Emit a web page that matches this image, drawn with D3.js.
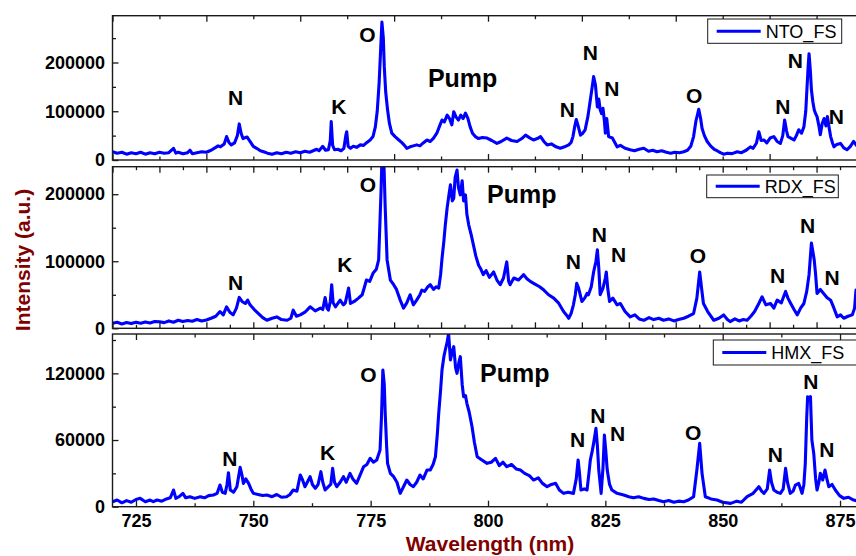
<!DOCTYPE html>
<html>
<head>
<meta charset="utf-8">
<script src="https://cdn.jsdelivr.net/npm/d3@7/dist/d3.min.js"></script>
<style>
  body { margin: 0; background: #fff; }
  svg { display: block; font-family: "Liberation Sans", Arial, sans-serif; }
</style>
</head>
<body>
<svg id="chart" width="856" height="556"></svg>
<script>
// spectra: [wavelength nm, intensity a.u.]
var ntoData = [[720,17000],[721,14000],[722,16000],[723,12000],[724,15000],[725,13000],[726,16000],[727,12000],[728,15000],[729,13000],[730,16000],[731,14000],[732,15000],[733,24000],[733.5,14000],[734,16000],[735,13000],[736,15000],[736.5,20000],[737,13000],[738,15000],[739,17000],[740,16000],[741,20000],[742,26000],[742.5,29000],[743,27000],[743.8,33000],[744.3,48000],[744.8,36000],[745.3,31000],[746,35000],[746.6,50000],[747,74000],[747.4,55000],[747.8,44000],[748.3,46000],[748.7,47000],[749.3,38000],[750,28000],[750.7,24000],[751.5,19000],[752.2,17000],[753,14000],[754,12000],[755,15000],[756,13000],[757,16000],[758,14000],[759,17000],[760,15000],[761,18000],[762,16000],[763,20000],[763.5,22000],[764,19000],[764.8,28000],[765.4,20000],[766,21000],[766.4,40000],[766.6,79000],[766.9,30000],[767.3,21000],[768,22000],[768.7,19000],[769.3,24000],[769.7,50000],[769.9,58000],[770.2,28000],[770.7,24000],[771.3,28000],[772,26000],[772.8,31000],[773.5,30000],[774.2,36000],[774.9,41000],[775.5,48000],[776,68000],[776.4,100000],[776.8,157000],[777.1,220000],[777.4,283000],[777.7,250000],[777.9,192000],[778.2,140000],[778.6,103000],[779,75000],[779.5,55000],[780.2,48000],[781,41000],[781.6,36000],[782.2,30000],[782.7,24000],[783.4,27000],[784.1,29000],[784.8,31000],[785.5,29000],[786.2,35000],[787,41000],[787.7,38000],[788.4,45000],[789.1,55000],[789.7,70000],[790.2,82000],[790.7,78000],[791.3,92000],[791.8,85000],[792.3,72000],[792.7,99000],[793.2,88000],[793.7,82000],[794.2,92000],[794.7,85000],[795.2,96000],[795.7,86000],[796.2,68000],[796.7,55000],[797.3,48000],[798,44000],[798.8,46000],[799.8,45000],[800.8,40000],[801.9,34000],[802.8,38000],[804,45000],[805,40000],[806.2,38000],[807.2,44000],[808,51000],[808.8,46000],[809.7,41000],[810.5,44000],[811.2,48000],[811.9,38000],[812.6,31000],[813.5,33000],[814.5,27000],[815.4,24000],[816.3,27000],[817.2,31000],[817.7,36000],[818.1,48000],[818.5,70000],[818.8,83000],[819.2,70000],[819.7,51000],[820.2,55000],[820.7,62000],[821.3,90000],[821.8,123000],[822.2,150000],[822.5,171000],[822.9,153000],[823.3,109000],[823.6,125000],[823.9,103000],[824.2,95000],[824.5,106000],[824.8,80000],[825,55000],[825.3,85000],[825.7,48000],[826.5,45000],[827.5,27000],[828.2,30000],[829.2,24000],[830.3,21000],[831.2,19000],[832.2,22000],[833.2,24000],[834.2,18000],[835.1,20000],[836,17000],[837,19000],[838,16000],[838.9,14000],[839.8,16000],[840.8,15000],[841.7,17000],[842.5,20000],[843.2,28000],[843.8,48000],[844.3,80000],[844.9,104000],[845.3,85000],[845.6,65000],[846.1,50000],[846.7,38000],[847.5,28000],[848.2,22000],[848.8,19000],[849.5,15000],[850.2,12000],[851,14000],[852,13000],[853.1,17000],[854,15000],[855,20000],[855.9,27000],[856.5,24000],[857.2,35000],[857.7,58000],[858.2,40000],[858.8,41000],[859.4,35000],[860.1,45000],[860.9,48000],[861.6,38000],[862.3,34000],[862.8,50000],[863.2,82000],[863.6,60000],[863.9,48000],[864.5,45000],[865.2,41000],[865.7,50000],[866.2,62000],[866.8,55000],[867.3,68000],[867.7,100000],[867.9,137000],[868.2,190000],[868.4,218000],[868.7,180000],[868.9,144000],[869.2,120000],[869.5,103000],[869.8,95000],[870.1,89000],[870.5,70000],[870.8,52000],[871.2,75000],[871.6,85000],[872,70000],[872.3,89000],[872.7,65000],[873,48000],[873.4,35000],[873.7,27000],[874.3,32000],[875.1,34000],[875.8,25000],[876.5,21000],[877.2,28000],[877.9,38000],[878.5,30000],[879.2,33000],[880,28000]];

var rdxData = [[720,7500],[721,9000],[722,6500],[723,8500],[724,7000],[725,9000],[726,7500],[727,9500],[728,8000],[729,10000],[730,9700],[731,8500],[732,11000],[733,9000],[734,12000],[735,10000],[736,11500],[737,10500],[738,13000],[739,11000],[740,12400],[741,15000],[742,18000],[742.9,25000],[743.6,20000],[744.3,32000],[745,24000],[745.7,20000],[746.4,30000],[747,46000],[747.6,40000],[748.3,37000],[748.8,42000],[749.3,35000],[750.2,28000],[751.1,22000],[752,16000],[752.9,12000],[754,15000],[755,17000],[756,13000],[757.2,12000],[758,15000],[758.5,27000],[759.2,18000],[760,20000],[761,24000],[762.1,32000],[763.2,26000],[764.3,30000],[764.8,28000],[765.3,46000],[765.7,30000],[766,27000],[766.4,40000],[766.7,65000],[767,38000],[767.5,32000],[768.5,42000],[769.2,35000],[769.6,38000],[770.3,60000],[770.7,37000],[771.5,40000],[772.4,45000],[773.2,50000],[773.7,62000],[774.1,72000],[774.8,70000],[775.5,82000],[776.2,88000],[776.7,102000],[777.2,202000],[777.6,300000],[778.1,180000],[778.5,102000],[779.2,72000],[779.9,65000],[780.5,58000],[781.3,42000],[782,30000],[782.7,38000],[783.4,50000],[784.1,35000],[784.8,42000],[785.5,50000],[785.9,57000],[786.5,55000],[787.2,62000],[787.7,65000],[788.4,58000],[789,62000],[789.5,60000],[789.9,80000],[790.2,104000],[790.6,130000],[790.9,154000],[791.3,180000],[791.7,200000],[792,214000],[792.4,190000],[792.7,194000],[793,225000],[793.4,236000],[793.7,210000],[794.1,199000],[794.5,220000],[794.8,190000],[795.2,199000],[795.5,170000],[795.9,154000],[796.4,140000],[796.9,124000],[797.4,108000],[798,94000],[798.5,88000],[799,80000],[799.6,86000],[800.3,76000],[801.2,84000],[801.9,72000],[802.6,65000],[803.3,75000],[804,99000],[804.4,70000],[804.7,65000],[805.5,75000],[806.5,72000],[807.6,80000],[808.3,74000],[809,70000],[810,66000],[811,62000],[811.9,57000],[812.9,50000],[814,45000],[815,38000],[816.1,25000],[816.7,20000],[817.2,15000],[817.7,22000],[818.2,35000],[818.6,50000],[818.9,67000],[819.3,60000],[820,40000],[820.6,45000],[821.1,52000],[821.4,50000],[822,62000],[822.5,84000],[823,100000],[823.3,117000],[823.6,90000],[823.9,50000],[824.5,60000],[825,75000],[825.2,84000],[825.5,60000],[825.9,40000],[826.6,45000],[827.5,35000],[828.2,37000],[829.2,25000],[830.3,17000],[831.3,20000],[832.2,14000],[833.2,12000],[834.3,16000],[835.3,13000],[836.4,15000],[837.4,12000],[838.5,14000],[839.6,11000],[840.6,13000],[841.7,15000],[842.7,18000],[843.8,22000],[844.5,45000],[845.1,84000],[845.5,60000],[845.9,37000],[846.8,25000],[848.1,12000],[849.2,15000],[850.2,20000],[851,13000],[851.6,10000],[852.6,14000],[853.5,11000],[854.4,13000],[855.2,12000],[856,18000],[856.8,25000],[857.7,37000],[858.4,47000],[859.2,35000],[860.2,37000],[860.9,30000],[861.6,42000],[862.5,38000],[863.4,55000],[863.9,45000],[864.5,37000],[865.2,28000],[865.9,20000],[866.6,30000],[867.3,37000],[867.9,55000],[868.4,80000],[868.9,127000],[869.2,115000],[869.5,102000],[869.8,80000],[870.1,52000],[870.8,58000],[871.5,52000],[872.2,46000],[873,42000],[873.7,30000],[874.4,17000],[875.1,20000],[875.8,15000],[876.7,18000],[877.6,20000],[878.1,30000],[878.4,57000],[878.8,45000],[879.4,40000],[880,35000]];

var hmxData = [[720,4500],[721,6000],[722,3500],[723,5500],[724,4000],[725,6500],[725.9,7500],[727,4500],[728,6000],[728.7,4500],[729.5,6000],[730.5,5000],[731.5,7000],[732.3,8000],[733,15000],[733.5,7500],[734.2,9000],[735,12000],[735.6,8000],[736.5,9000],[737.5,7500],[738.7,9000],[739.6,8000],[740.5,10000],[741.5,10500],[742.3,12000],[742.9,19500],[743.4,13000],[744,12000],[744.4,20000],[744.7,30600],[745.1,15000],[745.8,13000],[746.5,18000],[747.2,35400],[747.6,28000],[747.9,21000],[748.4,25000],[749,21000],[749.6,15000],[750,12000],[751,11000],[752,10000],[752.9,10500],[754,9000],[755,11000],[756,8500],[757.1,9000],[757.8,11000],[758.5,15000],[759.3,14000],[760,28500],[760.5,24000],[761,18000],[761.5,22000],[762.1,27000],[762.6,20000],[763.2,16500],[763.8,20000],[764.4,31500],[764.8,22000],[765.3,15000],[766,18000],[766.5,20000],[766.9,34500],[767.3,22000],[767.8,18000],[768.5,22000],[769.2,27000],[769.8,22000],[770.6,30000],[771.2,25000],[772,21000],[772.7,28000],[773.5,36000],[774.2,38000],[774.9,43500],[775.6,40000],[776.3,42000],[777,51000],[777.3,80000],[777.6,123000],[777.9,110000],[778.1,84000],[778.4,55000],[778.6,39000],[779.2,30000],[779.9,27000],[780.6,22000],[781.3,12000],[782,18000],[782.7,24000],[783.4,20000],[784.1,18000],[784.8,22000],[785.5,28500],[786.2,25000],[787,33000],[787.7,33000],[788.3,38000],[788.8,45000],[789.2,65000],[789.5,84000],[789.9,105000],[790.2,123000],[790.6,135000],[790.9,141000],[791.3,148000],[791.6,156000],[792,132000],[792.4,140000],[792.7,144000],[793.1,125000],[793.4,120000],[793.8,130000],[794.1,135000],[794.5,110000],[794.8,99000],[795.2,100000],[795.5,93000],[796,85000],[796.6,72000],[797.1,58000],[797.7,45000],[798.7,42000],[799.8,39000],[800.7,40000],[801.6,43500],[802.4,37000],[803.2,40000],[804,36000],[805,38000],[806,34000],[806.9,33000],[807.8,30000],[808.8,28000],[809.7,24000],[810.7,26000],[811.6,21000],[812.6,18000],[813.5,20000],[814.4,21000],[815.2,15000],[816.1,12000],[817.1,13000],[818.2,12000],[818.8,25000],[819.2,42000],[819.5,30000],[819.8,15000],[820.5,16000],[821.1,15000],[821.5,30000],[821.8,42000],[822.2,50000],[822.5,57000],[822.8,65000],[823,70500],[823.3,55000],[823.6,33000],[824.1,12000],[824.5,35000],[824.8,64500],[825.1,50000],[825.4,33000],[825.9,20000],[826.4,15000],[827.5,12000],[828.9,10500],[830,9000],[831,8000],[832.1,9000],[833.2,7500],[834.3,6500],[835.3,7000],[836.4,5500],[837.4,4500],[838.5,5500],[839.6,4000],[840.6,5000],[841.7,4500],[842.7,6000],[843.8,9000],[844.5,33000],[845.1,57000],[845.6,30000],[846.3,9000],[847.5,7000],[848.8,6000],[850,4000],[851.7,3000],[853,5000],[854,4000],[855.2,9000],[856.5,12000],[857.7,18000],[858.3,14000],[858.8,12000],[859.5,16000],[860,33000],[860.4,22000],[860.9,15000],[861.6,13000],[862.3,12000],[862.9,16000],[863.4,34500],[863.8,22000],[864.4,12000],[865,14000],[865.5,19500],[866.2,21000],[866.9,12000],[867.3,20000],[867.6,39000],[867.9,80000],[868.1,99000],[868.4,96000],[868.7,99000],[869,60000],[869.4,48000],[869.8,25000],[870.1,15000],[870.5,22000],[870.8,30000],[871.3,24000],[871.8,33000],[872.2,25000],[872.6,18000],[873.3,20000],[874,15000],[874.9,10000],[875.8,7500],[876.8,8500],[877.9,6000],[878.8,5000],[880,5500]];

var seriesNames = ["NTO_FS", "RDX_FS", "HMX_FS"];
var yMaxes = [296000, 241000, 155400];
var yMajorTicks = [[0, 100000, 200000], [0, 100000, 200000], [0, 60000, 120000]];
var yMinorTicks = [[50000, 150000, 250000], [50000, 150000], [30000, 90000, 150000]];
var xMajorTicks = [[720, 740, 760, 780, 800, 820, 840, 860, 880],
                   [720, 730, 740, 750, 760, 770, 780, 790, 800, 810, 820, 830, 840, 850, 860, 870, 880],
                   [725, 750, 775, 800, 825, 850, 875]];
var xMinorTicks = [[730, 750, 770, 790, 810, 830, 850, 870],
                   [725, 735, 745, 755, 765, 775, 785, 795, 805, 815, 825, 835, 845, 855, 865, 875],
                   [737.5, 762.5, 787.5, 812.5, 837.5, 862.5]];

// peak labels: [text, wavelength, intensity at baseline]
var ntoLabels = [["N",746.2,113000],["K",768.2,94000],["O",774.3,242000],["Pump",794.6,149000],
  ["N",816.9,87600],["N",821.8,205000],["N",826.4,131000],["O",843.9,116000],
  ["N",862.8,94000],["N",865.5,189000],["N",874.2,73000]];
var rdxLabels = [["N",746.2,57000],["K",769.5,83500],["O",774.4,204000],["Pump",807.2,186500],
  ["N",818.2,88000],["N",823.7,128000],["N",827.8,99500],["O",844.7,97000],
  ["N",861.7,68000],["N",868.1,141800],["N",873.3,64600]];
var hmxLabels = [["N",745,36600],["K",765.8,42000],["O",774.5,112000],["Pump",805.7,112500],
  ["N",819.1,53400],["N",823.4,75000],["N",827.6,59000],["O",843.7,60000],
  ["N",861.2,40000],["N",868.8,105600],["N",872.2,44500]];

var allData = [ntoData, rdxData, hmxData];
var allLabels = [ntoLabels, rdxLabels, hmxLabels];

var svg = d3.select("#chart");
var left = 112.5, right = 863.5;
var panels = [{top: 15.7, bottom: 160}, {top: 166.7, bottom: 328.3}, {top: 334, bottom: 506.7}];
// legend boxes [x, y, w, h]
var legendBoxes = [[707.7, 19, 134, 24.3], [706.7, 175, 131.6, 22.7], [713.3, 340, 145, 25]];

var x = d3.scaleLinear().domain([720, 880]).range([left, right]);
var ink = "#1a1a1a";

panels.forEach(function(p, i) {
    var y = d3.scaleLinear().domain([0, yMaxes[i]]).range([p.bottom, p.top]);
    var g = svg.append("g");

    g.append("clipPath").attr("id", "clip" + i)
        .append("rect")
        .attr("x", left).attr("y", p.top)
        .attr("width", right - left).attr("height", p.bottom - p.top);

    var line = d3.line()
        .x(function(d) { return x(d[0]); })
        .y(function(d) { return y(d[1]); });

    g.append("path")
        .datum(allData[i])
        .attr("clip-path", "url(#clip" + i + ")")
        .attr("fill", "none")
        .attr("stroke", "#0000ff")
        .attr("stroke-width", 3.1)
        .attr("stroke-linejoin", "round")
        .attr("d", line);

    // axes with inward ticks
    function addAxis(axis, tx, ty) {
        var a = g.append("g").attr("transform", "translate(" + tx + "," + ty + ")").call(axis);
        a.select(".domain").remove();
        a.selectAll(".tick line").attr("stroke", ink).attr("stroke-width", 1.3);
        a.selectAll(".tick text").attr("fill", "#000").attr("font-size", 18).attr("font-weight", "bold")
            .attr("font-family", "'Liberation Sans', Arial, sans-serif");
        return a;
    }
    addAxis(d3.axisLeft(y).tickValues(yMajorTicks[i]).tickSizeInner(-6).tickSizeOuter(0)
        .tickPadding(7.5).tickFormat(d3.format("d")), left, 0);
    addAxis(d3.axisLeft(y).tickValues(yMinorTicks[i]).tickSizeInner(-3.5).tickSizeOuter(0)
        .tickFormat(""), left, 0);
    addAxis(d3.axisTop(x).tickValues(xMajorTicks[i]).tickSizeInner(-6).tickSizeOuter(0)
        .tickFormat(""), 0, p.top);
    addAxis(d3.axisTop(x).tickValues(xMinorTicks[i]).tickSizeInner(-3.5).tickSizeOuter(0)
        .tickFormat(""), 0, p.top);
    addAxis(d3.axisBottom(x).tickValues(xMajorTicks[i]).tickSizeInner(-6).tickSizeOuter(0)
        .tickPadding(7.5).tickFormat(i === 2 ? d3.format("d") : ""), 0, p.bottom);
    addAxis(d3.axisBottom(x).tickValues(xMinorTicks[i]).tickSizeInner(-3.5).tickSizeOuter(0)
        .tickFormat(""), 0, p.bottom);

    // frame
    g.append("rect")
        .attr("x", left).attr("y", p.top)
        .attr("width", right - left).attr("height", p.bottom - p.top)
        .attr("fill", "none").attr("stroke", ink).attr("stroke-width", 1.4);

    // peak labels
    g.selectAll("text.peak")
        .data(allLabels[i])
        .enter().append("text")
        .attr("class", "peak")
        .attr("x", function(d) { return x(d[1]); })
        .attr("y", function(d) { return y(d[2]); })
        .attr("text-anchor", "middle")
        .attr("font-weight", "bold")
        .attr("font-size", function(d) { return d[0] === "Pump" ? 25 : 21; })
        .attr("fill", "#000")
        .text(function(d) { return d[0]; });

    // legend
    var lb = legendBoxes[i];
    var lg = g.append("g").attr("transform", "translate(" + lb[0] + "," + lb[1] + ")");
    lg.append("rect").attr("width", lb[2]).attr("height", lb[3])
        .attr("fill", "#fff").attr("stroke", ink).attr("stroke-width", 1);
    lg.append("line").attr("x1", 9).attr("x2", 53)
        .attr("y1", lb[3] / 2).attr("y2", lb[3] / 2)
        .attr("stroke", "#0000ff").attr("stroke-width", 3);
    lg.append("text").attr("x", 58).attr("y", lb[3] / 2 + 6.5)
        .attr("font-size", 18).attr("fill", "#000")
        .text(seriesNames[i]);
});

// axis titles
svg.append("text")
    .attr("transform", "translate(30,260) rotate(-90)")
    .attr("text-anchor", "middle")
    .attr("font-weight", "bold")
    .attr("font-size", 21)
    .attr("fill", "#800000")
    .text("Intensity (a.u.)");

svg.append("text")
    .attr("x", 490).attr("y", 551)
    .attr("text-anchor", "middle")
    .attr("font-weight", "bold")
    .attr("font-size", 21)
    .attr("fill", "#800000")
    .text("Wavelength (nm)");
</script>
</body>
</html>
